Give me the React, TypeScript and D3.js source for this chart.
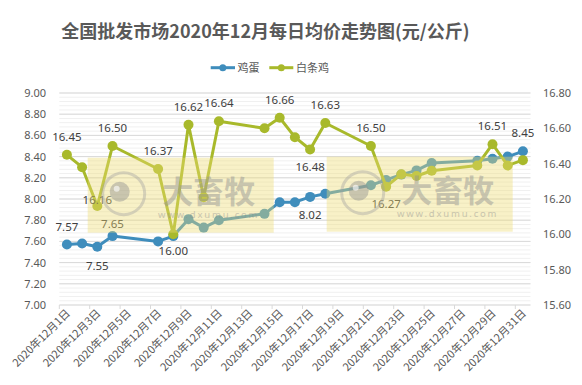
import * as d3 from "d3";

// trading days in Dec 2020 (weekends missing)
const days = [1, 2, 3, 4, 7, 8, 9, 10, 11, 14, 15, 16, 17, 18, 21, 22, 23, 24, 25, 28, 29, 30, 31];
const eggPrices = [7.57, 7.58, 7.55, 7.65, 7.6, 7.65, 7.81, 7.73, 7.8, 7.86, 7.97, 7.97, 8.02, 8.05, 8.13, 8.18, 8.23, 8.27, 8.34, 8.36, 8.38, 8.4, 8.45];
const chickenPrices = [16.45, 16.38, 16.16, 16.5, 16.37, 16.0, 16.62, 16.21, 16.64, 16.6, 16.66, 16.55, 16.48, 16.63, 16.5, 16.27, 16.34, 16.33, 16.36, 16.39, 16.51, 16.39, 16.42];
const eggLabelDays = [1, 3, 4, 17, 31];
const chickenLabelDays = [1, 3, 4, 7, 8, 9, 11, 15, 17, 18, 21, 22, 29];
const allDays = d3.range(1, 32);
const tickDays = d3.range(1, 32, 2);

const title = "全国批发市场2020年12月每日均价走势图(元/公斤)";
const seriesNames = ["鸡蛋", "白条鸡"];

const width = 582;
const height = 385;
const margin = {top: 93, right: 51.5, bottom: 80, left: 59.3};
const blue = "#3F8DBC";
const green = "#A8B92B";
const textColor = "#595959";
const numFont = "'Noto Sans', 'Noto Sans CJK SC', sans-serif";
const cjkFont = "'Noto Sans CJK SC', 'Noto Sans', sans-serif";

// label offsets (baseline relative to the point)
const eggOffset: Record<number, number> = {1: -14, 3: 23, 4: -8, 17: 22, 31: -14};
const chickenBelow = [8, 17, 22];

function Watermark({x, y}: {x: number; y: number}) {
    return (
        <g transform={`translate(${x},${y})`} pointerEvents="none">
            <rect x={0} y={0} width={186} height={75} fill="#EEDC72" opacity={0.4}/>
            <circle cx={36} cy={36} r={21} fill="none" stroke="#a0a0a0" strokeWidth={3} opacity={0.4}/>
            <circle cx={32} cy={34} r={10} fill="#909090" opacity={0.45}/>
            <circle cx={29} cy={31} r={3} fill="#ffffff" opacity={0.6}/>
            <text x={121} y={45} textAnchor="middle" fontFamily={cjkFont} fontWeight="bold" fontSize={31}
                  fill="#909090" opacity={0.45}>大畜牧</text>
            <text x={121} y={60} textAnchor="middle" fontFamily={numFont} fontSize={9.5} letterSpacing={1.8}
                  fill="#909090" opacity={0.45}>www.dxumu.com</text>
        </g>
    );
}

export default function App() {
    const x = d3.scaleBand<number>()
        .domain(allDays)
        .range([margin.left, width - margin.right])
        .paddingInner(0);
    const bw = x.bandwidth();
    const cx = (d: number) => (x(d) as number) + bw / 2;

    const yLeft = d3.scaleLinear().domain([7, 9]).range([height - margin.bottom, margin.top]);
    const yRight = d3.scaleLinear().domain([15.6, 16.8]).range([height - margin.bottom, margin.top]);

    const minorTicks = d3.range(0, 51).map(i => 7 + i * 0.04);
    const leftTicks = yLeft.ticks(10);
    const rightTicks = yRight.ticks(6);

    const eggLine = d3.line<number>().x((_, i) => cx(days[i])).y(v => yLeft(v));
    const chickenLine = d3.line<number>().x((_, i) => cx(days[i])).y(v => yRight(v));

    const x0 = margin.left;
    const x1 = width - margin.right;
    const yBase = height - margin.bottom;

    return (
        <svg width={width} height={height} style={{position: "absolute", left: 0, top: 0}}>
            <rect width={width} height={height} fill="#ffffff"/>
            <text x={265.5} y={38} textAnchor="middle" fontFamily={cjkFont} fontWeight="bold" fontSize={18}
                  fill={textColor}>{title}</text>

            {/* legend */}
            <g>
                <line x1={210.7} x2={235} y1={67.7} y2={67.7} stroke={blue} strokeWidth={3}/>
                <circle cx={222.8} cy={67.7} r={3.5} fill={blue}/>
                <text x={237.5} y={71.6} fontFamily={cjkFont} fontSize={11} fill={textColor}>{seriesNames[0]}</text>
                <line x1={269.3} x2={293.3} y1={67.7} y2={67.7} stroke={green} strokeWidth={3}/>
                <circle cx={281.3} cy={67.7} r={3.5} fill={green}/>
                <text x={296} y={71.6} fontFamily={cjkFont} fontSize={11} fill={textColor}>{seriesNames[1]}</text>
            </g>

            {/* grid */}
            {minorTicks.map((t, i) => (
                <line key={"m" + i} x1={x0} x2={x1} y1={yLeft(t)} y2={yLeft(t)} stroke="#F0F0F0" strokeWidth={1}/>
            ))}
            {leftTicks.map(t => (
                <line key={"g" + t} x1={x0} x2={x1} y1={yLeft(t)} y2={yLeft(t)} stroke="#D9D9D9" strokeWidth={1}/>
            ))}

            {/* axes */}
            {leftTicks.map(t => (
                <text key={"l" + t} x={46} y={yLeft(t) + 4} textAnchor="end" fontFamily={numFont} fontSize={11}
                      fill={textColor}>{t.toFixed(2)}</text>
            ))}
            {rightTicks.map(t => (
                <text key={"r" + t} x={543} y={yRight(t) + 4} textAnchor="start" fontFamily={numFont} fontSize={11}
                      fill={textColor}>{t.toFixed(2)}</text>
            ))}
            {d3.range(0, 32, 2).map(k => {
                const tx = k < 31 ? (x(k + 1) as number) : x1;
                return <line key={"t" + k} x1={tx} x2={tx} y1={yBase} y2={yBase + 4} stroke="#D9D9D9"/>;
            })}
            {tickDays.map(d => (
                <text key={"x" + d} transform={`translate(${cx(d) + 4},${yBase + 9}) rotate(-45)`} textAnchor="end"
                      fontFamily={cjkFont} fontSize={11} fill={textColor}>{`2020年12月${d}日`}</text>
            ))}

            {/* series */}
            <path d={eggLine(eggPrices) || ""} fill="none" stroke={blue} strokeWidth={3} strokeLinejoin="round"/>
            {eggPrices.map((v, i) => (
                <circle key={"e" + i} cx={cx(days[i])} cy={yLeft(v)} r={5} fill={blue}/>
            ))}
            <path d={chickenLine(chickenPrices) || ""} fill="none" stroke={green} strokeWidth={3} strokeLinejoin="round"/>
            {chickenPrices.map((v, i) => (
                <circle key={"c" + i} cx={cx(days[i])} cy={yRight(v)} r={5} fill={green}/>
            ))}

            {/* data labels */}
            {eggLabelDays.map(d => {
                const v = eggPrices[days.indexOf(d)];
                return <text key={"el" + d} x={cx(d)} y={yLeft(v) + eggOffset[d]} textAnchor="middle"
                             fontFamily={numFont} fontSize={11.5} fill="#404040">{v.toFixed(2)}</text>;
            })}
            {chickenLabelDays.map(d => {
                const v = chickenPrices[days.indexOf(d)];
                const off = d === 3 ? -2 : chickenBelow.includes(d) ? 21 : -14;
                return <text key={"cl" + d} x={cx(d)} y={yRight(v) + off} textAnchor="middle"
                             fontFamily={numFont} fontSize={11.5} fill="#404040">{v.toFixed(2)}</text>;
            })}

            <Watermark x={87.7} y={157.7}/>
            <Watermark x={326.7} y={156.7}/>
        </svg>
    );
}
